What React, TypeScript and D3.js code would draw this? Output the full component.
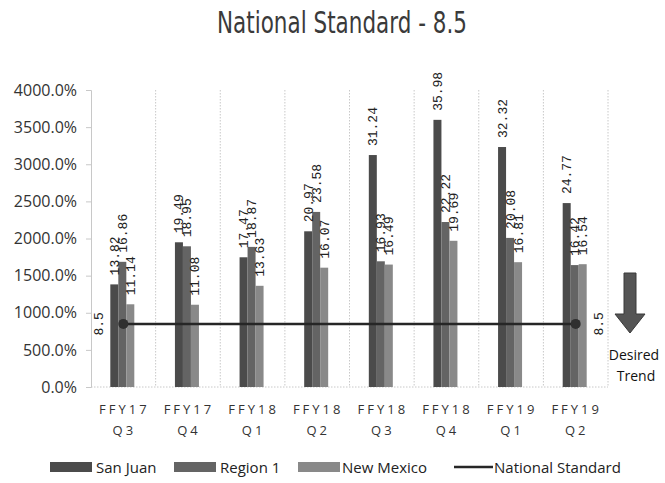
import React, { useEffect, useRef } from "react";
import * as d3 from "d3";

const catYear = ["FFY17", "FFY17", "FFY18", "FFY18", "FFY18", "FFY18", "FFY19", "FFY19"];
const catQuarter = ["Q3", "Q4", "Q1", "Q2", "Q3", "Q4", "Q1", "Q2"];
const sanJuan = [13.82, 19.49, 17.47, 20.97, 31.24, 35.98, 32.32, 24.77];
const region1 = [16.86, 18.95, 18.87, 23.58, 16.93, 22.22, 20.08, 16.42];
const newMexico = [11.14, 11.08, 13.63, 16.07, 16.49, 19.69, 16.81, 16.54];
const nationalStandard = 8.5;
const seriesNames = ["San Juan", "Region 1", "New Mexico"];
const seriesColors = ["#4b4b4b", "#646464", "#898989"];
const yTicks = [0, 500, 1000, 1500, 2000, 2500, 3000, 3500, 4000];

const W = 665;
const H = 483;

export default function App() {
  const svgRef = useRef<SVGSVGElement | null>(null);

  useEffect(() => {
    const svg = d3.select(svgRef.current);
    svg.selectAll("*").remove();

    const left = 91, right = 608, top = 90, bottom = 387;
    const keys = catYear.map((d, i) => `${d} ${catQuarter[i]}`);
    const x = d3.scaleBand<string>().domain(keys).range([left, right]).padding(0);
    const inner = d3.scaleBand<string>().domain(seriesNames).range([-13, 11]).padding(0);
    const y = d3.scaleLinear().domain([0, 4000]).range([bottom, top]);

    svg.append("rect").attr("width", W).attr("height", H).attr("fill", "#fff");

    // title
    svg.append("text")
      .attr("x", 342).attr("y", 33)
      .attr("text-anchor", "middle")
      .attr("font-family", "DejaVu Sans")
      .attr("font-size", 30)
      .attr("textLength", 250)
      .attr("lengthAdjust", "spacingAndGlyphs")
      .attr("fill", "#3a3a3a")
      .text("National  Standard  - 8.5");

    // vertical dotted gridlines at category boundaries
    const bounds = keys.map((k) => x(k)!).concat([right]);
    svg.append("g").selectAll("line").data(bounds.slice(1)).join("line")
      .attr("x1", (d) => d).attr("x2", (d) => d)
      .attr("y1", top).attr("y2", bottom)
      .attr("stroke", "#c8c8c8").attr("stroke-dasharray", "1.5,1.5");

    // x axis line
    svg.append("line")
      .attr("x1", left).attr("x2", right).attr("y1", bottom).attr("y2", bottom)
      .attr("stroke", "#c8c8c8").attr("stroke-dasharray", "1.5,1.5");

    // y axis
    const yAxis = svg.append("g").attr("transform", `translate(${left},0)`)
      .call(d3.axisLeft(y).tickValues(yTicks).tickSize(5).tickFormat((d) => `${(+d).toFixed(1)}%`));
    yAxis.select(".domain").attr("stroke", "#c8c8c8");
    yAxis.selectAll(".tick line").attr("stroke", "#c8c8c8");
    yAxis.selectAll(".tick text")
      .attr("x", -14)
      .attr("font-family", "Open Sans")
      .attr("font-size", 16)
      .attr("fill", "#333");

    // bars
    const series = [sanJuan, region1, newMexico];
    series.forEach((vals, si) => {
      const g = svg.append("g");
      g.selectAll("rect").data(vals).join("rect")
        .attr("x", (_, i) => x(keys[i])! + x.bandwidth() / 2 + inner(seriesNames[si])!)
        .attr("y", (d) => y(d * 100))
        .attr("width", inner.bandwidth())
        .attr("height", (d) => bottom - y(d * 100))
        .attr("fill", seriesColors[si]);
    });

    // data labels
    series.forEach((vals, si) => {
      svg.append("g").selectAll("text").data(vals).join("text")
        .attr("transform", (d, i) => {
          const cx = x(keys[i])! + x.bandwidth() / 2 + inner(seriesNames[si])! + inner.bandwidth() / 2;
          return `translate(${cx + 1},${y(d * 100) - 9}) rotate(-90)`;
        })
        .attr("dominant-baseline", "central")
        .attr("font-family", "Liberation Mono")
        .attr("font-size", 13)
        .attr("fill", "#222")
        .text((d) => d.toFixed(2));
    });

    // national standard line
    const first = x(keys[0])! + x.bandwidth() / 2;
    const last = x(keys[keys.length - 1])! + x.bandwidth() / 2;
    const ny = y(nationalStandard * 100);
    svg.append("line")
      .attr("x1", first).attr("x2", last).attr("y1", ny).attr("y2", ny)
      .attr("stroke", "#262626").attr("stroke-width", 2.5);
    svg.append("g").selectAll("circle").data([first, last]).join("circle")
      .attr("cx", (d) => d).attr("cy", ny).attr("r", 5).attr("fill", "#303030");
    svg.append("g").selectAll("text").data([first - 24, last + 24]).join("text")
      .attr("transform", (d) => `translate(${d},${ny}) rotate(-90)`)
      .attr("text-anchor", "middle")
      .attr("dominant-baseline", "central")
      .attr("font-family", "Liberation Mono")
      .attr("font-size", 13)
      .attr("fill", "#222")
      .text(nationalStandard.toString());

    // x labels
    const xl = svg.append("g").selectAll("g").data(keys).join("g")
      .attr("transform", (k) => `translate(${x(k)! + x.bandwidth() / 2 + 1},0)`);
    xl.append("text").attr("y", 414).attr("text-anchor", "middle")
      .attr("font-family", "Open Sans").attr("font-size", 13).attr("letter-spacing", 3)
      .attr("fill", "#333").text((_, i) => catYear[i]);
    xl.append("text").attr("y", 435).attr("text-anchor", "middle")
      .attr("font-family", "Open Sans").attr("font-size", 13).attr("letter-spacing", 3)
      .attr("fill", "#333").text((_, i) => catQuarter[i]);

    // desired trend arrow
    const ax = 630;
    svg.append("path")
      .attr("d", `M${ax - 6},273 L${ax + 6},273 L${ax + 6},314 L${ax + 15},314 L${ax},333 L${ax - 15},314 L${ax - 6},314 Z`)
      .attr("fill", "#555").attr("stroke", "#3a3a3a").attr("stroke-width", 1);
    svg.append("text").attr("x", 634).attr("y", 360).attr("text-anchor", "middle")
      .attr("font-family", "Open Sans").attr("font-size", 14).attr("fill", "#111").text("Desired");
    svg.append("text").attr("x", 636).attr("y", 381).attr("text-anchor", "middle")
      .attr("font-family", "Open Sans").attr("font-size", 14).attr("fill", "#111").text("Trend");

    // legend
    const ly = 467;
    const legend = [
      { name: seriesNames[0], sx: 50, tx: 96, color: seriesColors[0] },
      { name: seriesNames[1], sx: 174, tx: 220, color: seriesColors[1] },
      { name: seriesNames[2], sx: 298, tx: 342, color: seriesColors[2] },
    ];
    const lg = svg.append("g");
    legend.forEach((l) => {
      lg.append("rect").attr("x", l.sx).attr("y", ly - 5).attr("width", 42).attr("height", 10).attr("fill", l.color);
      lg.append("text").attr("x", l.tx).attr("y", ly).attr("dominant-baseline", "central")
        .attr("font-family", "Open Sans").attr("font-size", 15).attr("fill", "#222").text(l.name);
    });
    lg.append("line").attr("x1", 454).attr("x2", 493).attr("y1", ly).attr("y2", ly)
      .attr("stroke", "#262626").attr("stroke-width", 2.5);
    lg.append("text").attr("x", 494).attr("y", ly).attr("dominant-baseline", "central")
      .attr("font-family", "Open Sans").attr("font-size", 15).attr("fill", "#222").text("National Standard");
  }, []);

  return (
    <svg ref={svgRef} width={W} height={H} style={{ position: "absolute", left: 0, top: 0 }} />
  );
}
